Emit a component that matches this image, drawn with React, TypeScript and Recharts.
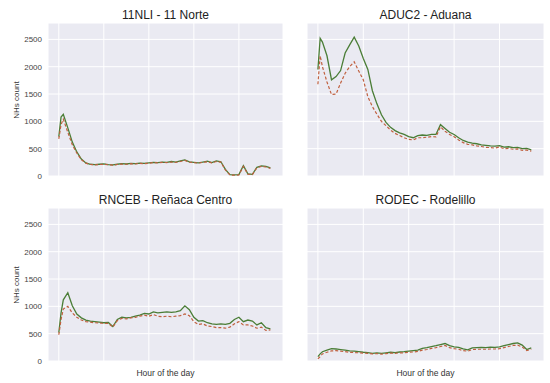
import { LineChart, Line, XAxis, YAxis, CartesianGrid } from 'recharts';

// hour of the day (first point doubled up to catch the early peaks)
const hours = [0, 0.25, 0.5, 1, 1.5, 2, 2.5, 3, 3.5, 4, 4.5, 5, 5.5, 6, 6.5, 7, 7.5, 8, 8.5, 9, 9.5, 10,
  10.5, 11, 11.5, 12, 12.5, 13, 13.5, 14, 14.5, 15, 15.5, 16, 16.5, 17, 17.5, 18, 18.5, 19, 19.5, 20,
  20.5, 21, 21.5, 22, 22.5, 23, 23.5];

const norteObs = [720, 1080, 1130, 880, 620, 440, 310, 240, 215, 210, 215, 220, 210, 205, 215, 225, 220, 230,
  225, 235, 230, 240, 250, 245, 255, 250, 265, 255, 275, 295, 260, 250, 240, 255, 270, 245, 275, 260, 120, 25,
  20, 25, 190, 40, 30, 160, 185, 175, 150];
const norteEst = [680, 940, 1040, 800, 570, 420, 300, 235, 210, 205, 210, 215, 205, 200, 210, 220, 215, 225,
  220, 230, 225, 235, 245, 240, 250, 245, 255, 250, 265, 285, 255, 245, 235, 250, 260, 240, 265, 255, 110, 20,
  15, 20, 175, 35, 25, 150, 175, 165, 140];

const aduanaObs = [1950, 2520, 2450, 2200, 1760, 1820, 1930, 2250, 2400, 2540, 2380, 2150, 1950, 1560, 1320,
  1120, 980, 890, 830, 790, 760, 720, 700, 740, 750, 745, 760, 760, 940, 870, 800, 760, 700, 650, 620, 600,
  590, 570, 560, 550, 545, 555, 530, 535, 520, 525, 500, 505, 480];
const aduanaEst = [1680, 2200, 2000, 1720, 1490, 1500, 1700, 1880, 2000, 2090, 1920, 1760, 1450, 1270, 1130,
  1000, 920, 840, 780, 740, 700, 670, 660, 700, 700, 710, 720, 715, 900, 820, 760, 720, 660, 610, 580, 570,
  550, 540, 525, 520, 510, 530, 500, 505, 490, 495, 470, 475, 455];

const renacaObs = [520, 880, 1120, 1250, 1010, 860, 790, 750, 730, 720, 710, 700, 705, 630, 760, 800, 790, 800,
  820, 840, 870, 860, 900, 880, 890, 900, 890, 900, 920, 1010, 940, 800, 730, 740, 700, 680, 670, 680, 670,
  690, 760, 800, 720, 750, 730, 660, 700, 610, 590];
const renacaEst = [480, 760, 950, 1000, 880, 800, 750, 720, 710, 700, 695, 690, 690, 620, 740, 780, 770, 790,
  800, 820, 840, 820, 850, 820, 810, 820, 810, 820, 830, 860, 830, 720, 670, 680, 640, 630, 610, 610, 600,
  620, 680, 720, 660, 660, 640, 600, 620, 560, 570];

const rodelilloObs = [80, 130, 170, 200, 225, 220, 210, 200, 185, 180, 170, 160, 155, 140, 150, 140, 150, 160,
  155, 165, 170, 180, 190, 200, 230, 245, 265, 280, 300, 320, 280, 260, 250, 220, 205, 240, 245, 250, 245,
  255, 250, 260, 280, 300, 320, 330, 290, 210, 240];
const rodelilloEst = [40, 80, 130, 160, 185, 190, 180, 170, 160, 155, 150, 145, 140, 130, 135, 125, 135, 145,
  140, 150, 150, 160, 165, 175, 200, 210, 230, 245, 265, 285, 245, 225, 215, 190, 180, 210, 215, 215, 215,
  220, 220, 225, 245, 265, 285, 290, 255, 190, 215];

const xTicks = [0, 5, 10, 15, 20];
const yTicks = [0, 500, 1000, 1500, 2000, 2500];

const FONT = '"Liberation Sans", Arial, sans-serif';
const GREEN = '#4a7d36';
const RED = '#c0603f';

// keeps the ticks (so the grid gets them) but draws no label
const noTick = () => <g />;

interface PanelProps {
  title: string;
  obs: number[];
  est: number[];
  left: number;
  top: number;
  leftCol: boolean;
  bottomRow: boolean;
}

function Panel({ title, obs, est, left, top, leftCol, bottomRow }: PanelProps) {
  const data = hours.map((h, i) => ({ h, obs: obs[i], est: est[i] }));
  const width = leftCol ? 290 : 250;
  const height = bottomRow ? 198 : 190;
  const yWidth = leftCol ? 48 : 7;
  const right = leftCol ? 7 : 6;
  const plotLeft = left + yWidth;
  const plotW = width - yWidth - right;

  return (
    <>
      <div style={{ position: 'absolute', left, top }}>
        <LineChart width={width} height={height} data={data}
          margin={{ top: 23, right, bottom: 0, left: 0 }}>
          <CartesianGrid fill="#eaeaf2" stroke="#ffffff" strokeWidth={1} vertical horizontal />
          <XAxis dataKey="h" type="number" domain={[-1.2, 24.9]} ticks={xTicks}
            tick={noTick} axisLine={false} tickLine={false} height={bottomRow ? 22 : 14}
            allowDataOverflow />
          <YAxis domain={[0, 2800]} ticks={yTicks} width={yWidth} axisLine={false} tickLine={false}
            tickSize={4} tickMargin={2} allowDataOverflow
            tick={leftCol ? { fontSize: 8, fill: '#444', fontFamily: FONT } : noTick} />
          <Line type="linear" dataKey="obs" stroke={GREEN} strokeWidth={1.3} dot={false}
            isAnimationActive={false} />
          <Line type="linear" dataKey="est" stroke={RED} strokeWidth={1.2} strokeDasharray="3 2"
            dot={false} isAnimationActive={false} />
        </LineChart>
      </div>
      <div style={{
        position: 'absolute', left: plotLeft, width: plotW, top: top + 8, textAlign: 'center',
        fontSize: 12, lineHeight: '14px', color: '#222', fontFamily: FONT, whiteSpace: 'nowrap',
      }}>
        {title}
      </div>
      {leftCol && (
        <div style={{
          position: 'absolute', left: 17, top: top + 99.5, transform: 'translate(-50%, -50%) rotate(-90deg)',
          fontSize: 8, lineHeight: '10px', color: '#333', fontFamily: FONT, whiteSpace: 'nowrap',
        }}>
          NHs count
        </div>
      )}
      {bottomRow && (
        <div style={{
          position: 'absolute', left: plotLeft, width: plotW, top: top + 183, textAlign: 'center',
          fontSize: 8.5, lineHeight: '10px', color: '#333', fontFamily: FONT, whiteSpace: 'nowrap',
        }}>
          Hour of the day
        </div>
      )}
    </>
  );
}

export default function App() {
  return (
    <div style={{ position: 'absolute', left: 0, top: 0, width: 550, height: 383, background: '#fff' }}>
      <Panel title="11NLI - 11 Norte" obs={norteObs} est={norteEst} left={0} top={0} leftCol bottomRow={false} />
      <Panel title="ADUC2 - Aduana" obs={aduanaObs} est={aduanaEst} left={300} top={0} leftCol={false} bottomRow={false} />
      <Panel title="RNCEB - Reñaca Centro" obs={renacaObs} est={renacaEst} left={0} top={185} leftCol bottomRow />
      <Panel title="RODEC - Rodelillo" obs={rodelilloObs} est={rodelilloEst} left={300} top={185} leftCol={false} bottomRow />
    </div>
  );
}
